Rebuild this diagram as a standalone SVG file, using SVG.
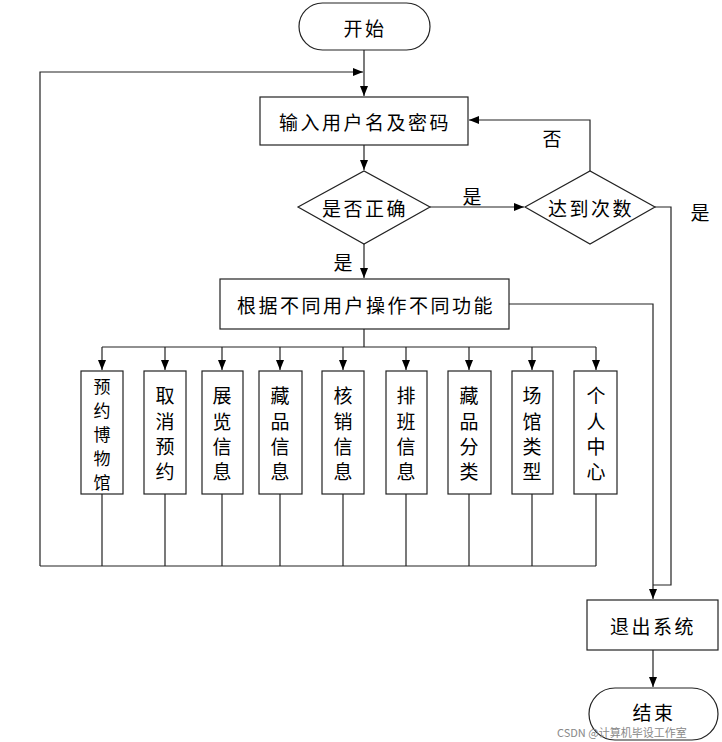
<svg xmlns="http://www.w3.org/2000/svg" width="722" height="742" viewBox="0 0 722 742">
<style>
.box{fill:#fff;stroke:#222;stroke-width:1.2}
.ln{fill:none;stroke:#222;stroke-width:1.2}
.t{font-family:"Noto Sans CJK SC","Liberation Sans",sans-serif;font-size:19px;fill:#000;text-anchor:middle;dominant-baseline:central;letter-spacing:2.5px}
.v{font-family:"Noto Sans CJK SC","Liberation Sans",sans-serif;font-size:19px;fill:#000;text-anchor:middle;dominant-baseline:central}
.vs{font-family:"Noto Sans CJK SC","Liberation Sans",sans-serif;font-size:17px;fill:#000;text-anchor:middle;dominant-baseline:central}
.wm{font-family:"Noto Sans CJK SC","Liberation Sans",sans-serif;font-size:11px;fill:#888;text-anchor:start;dominant-baseline:central}
</style>
<defs>
<marker id="ah" markerUnits="userSpaceOnUse" markerWidth="11" markerHeight="9" refX="10" refY="4" orient="auto" viewBox="0 0 11 9">
<path d="M0,0 L10,4 L0,8 z" fill="#000"/>
</marker>
</defs>
<rect width="722" height="742" fill="#fff"/>
<g id="connectors">
<path class="ln" d="M364,50 V96" marker-end="url(#ah)"/>
<path class="ln" d="M40,566 V72 H363" marker-end="url(#ah)"/>
<path class="ln" d="M364,145 V170" marker-end="url(#ah)"/>
<path class="ln" d="M430,207 H524" marker-end="url(#ah)"/>
<path class="ln" d="M590,171 V120 H469" marker-end="url(#ah)"/>
<path class="ln" d="M364,244 V278" marker-end="url(#ah)"/>
<path class="ln" d="M509,304 H653 V599" marker-end="url(#ah)"/>
<path class="ln" d="M655,207 H671 V585 H653"/>
<path class="ln" d="M653,650 V687" marker-end="url(#ah)"/>
<path class="ln" d="M364,329 V347 M102,347 H596"/>
<path class="ln" d="M102,347 V370" marker-end="url(#ah)"/>
<path class="ln" d="M165,347 V370" marker-end="url(#ah)"/>
<path class="ln" d="M222,347 V370" marker-end="url(#ah)"/>
<path class="ln" d="M280,347 V370" marker-end="url(#ah)"/>
<path class="ln" d="M343,347 V370" marker-end="url(#ah)"/>
<path class="ln" d="M406,347 V370" marker-end="url(#ah)"/>
<path class="ln" d="M469,347 V370" marker-end="url(#ah)"/>
<path class="ln" d="M532,347 V370" marker-end="url(#ah)"/>
<path class="ln" d="M596,347 V370" marker-end="url(#ah)"/>
<path class="ln" d="M102,494 V566 M165,494 V566 M222,494 V566 M280,494 V566 M343,494 V566 M406,494 V566 M469,494 V566 M532,494 V566 M596,494 V566 M40,566 H596"/>
<text class="v" x="472" y="195">是</text>
<text class="v" x="552" y="137">否</text>
<text class="v" x="343" y="261">是</text>
<text class="v" x="700" y="211">是</text>
</g>
<g id="start"><rect class="box" x="299" y="3" width="131" height="47" rx="23.5"/><text class="t" x="365" y="27">开始</text></g>
<g id="input"><rect class="box" x="260" y="97" width="208" height="48"/><text class="t" x="365" y="121">输入用户名及密码</text></g>
<g id="check"><path class="box" d="M298,207 L364,171 L430,207 L364,244 z"/><text class="t" x="365" y="207">是否正确</text></g>
<g id="count"><path class="box" d="M525,207 L590,171 L655,207 L590,244 z"/><text class="t" x="591" y="207">达到次数</text></g>
<g id="func"><rect class="box" x="220" y="279" width="289" height="50"/><text class="t" x="366" y="304">根据不同用户操作不同功能</text></g>
<g id="b1"><rect class="box" x="81" y="371" width="42" height="123"/><text class="vs" x="102" y="385">预</text><text class="vs" x="102" y="409">约</text><text class="vs" x="102" y="433">博</text><text class="vs" x="102" y="457">物</text><text class="vs" x="102" y="481">馆</text></g>
<g id="b2"><rect class="box" x="144" y="371" width="42" height="123"/><text class="v" x="165" y="394">取</text><text class="v" x="165" y="420">消</text><text class="v" x="165" y="445">预</text><text class="v" x="165" y="470">约</text></g>
<g id="b3"><rect class="box" x="202" y="371" width="41" height="123"/><text class="v" x="222" y="394">展</text><text class="v" x="222" y="420">览</text><text class="v" x="222" y="445">信</text><text class="v" x="222" y="470">息</text></g>
<g id="b4"><rect class="box" x="259" y="371" width="43" height="123"/><text class="v" x="280" y="394">藏</text><text class="v" x="280" y="420">品</text><text class="v" x="280" y="445">信</text><text class="v" x="280" y="470">息</text></g>
<g id="b5"><rect class="box" x="322" y="371" width="42" height="123"/><text class="v" x="343" y="394">核</text><text class="v" x="343" y="420">销</text><text class="v" x="343" y="445">信</text><text class="v" x="343" y="470">息</text></g>
<g id="b6"><rect class="box" x="386" y="371" width="41" height="123"/><text class="v" x="406" y="394">排</text><text class="v" x="406" y="420">班</text><text class="v" x="406" y="445">信</text><text class="v" x="406" y="470">息</text></g>
<g id="b7"><rect class="box" x="448" y="371" width="43" height="123"/><text class="v" x="469" y="394">藏</text><text class="v" x="469" y="420">品</text><text class="v" x="469" y="445">分</text><text class="v" x="469" y="470">类</text></g>
<g id="b8"><rect class="box" x="512" y="371" width="41" height="123"/><text class="v" x="532" y="394">场</text><text class="v" x="532" y="420">馆</text><text class="v" x="532" y="445">类</text><text class="v" x="532" y="470">型</text></g>
<g id="b9"><rect class="box" x="574" y="371" width="43" height="123"/><text class="v" x="596" y="394">个</text><text class="v" x="596" y="420">人</text><text class="v" x="596" y="445">中</text><text class="v" x="596" y="470">心</text></g>
<g id="exit"><rect class="box" x="587" y="600" width="131" height="50"/><text class="t" x="653" y="625">退出系统</text></g>
<g id="end"><rect class="box" x="589" y="688" width="129" height="52" rx="26"/><text class="t" x="654" y="711">结束</text></g>
<text class="wm" x="557" y="732">CSDN @计算机毕设工作室</text>
</svg>
